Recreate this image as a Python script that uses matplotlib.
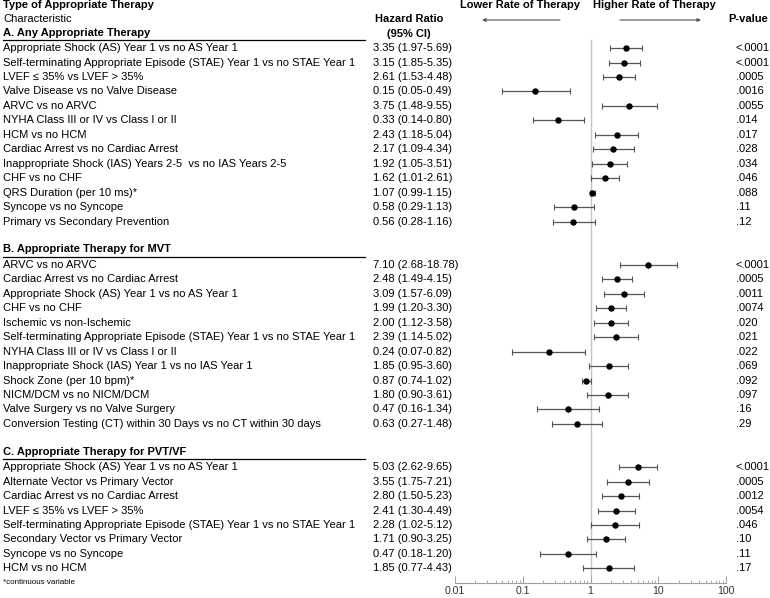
import matplotlib
matplotlib.use("Agg")
import matplotlib.pyplot as plt
from matplotlib.ticker import LogLocator, NullFormatter, FixedLocator, FixedFormatter

plt.rcParams['font.family'] = ['Liberation Sans', 'DejaVu Sans']

# ---------------- data ----------------
title = "Type of Appropriate Therapy"
col_char = "Characteristic"
col_hr = ["Hazard Ratio", "(95% CI)"]
col_p = "P-value"
lower_txt = "Lower Rate of Therapy"
higher_txt = "Higher Rate of Therapy"
footnote = "*continuous variable"

sec_a_title = "A. Any Appropriate Therapy"
sec_a_labels = [
    "Appropriate Shock (AS) Year 1 vs no AS Year 1",
    "Self-terminating Appropriate Episode (STAE) Year 1 vs no STAE Year 1",
    "LVEF \u2264 35% vs LVEF > 35%",
    "Valve Disease vs no Valve Disease",
    "ARVC vs no ARVC",
    "NYHA Class III or IV vs Class I or II",
    "HCM vs no HCM",
    "Cardiac Arrest vs no Cardiac Arrest",
    "Inappropriate Shock (IAS) Years 2-5  vs no IAS Years 2-5",
    "CHF vs no CHF",
    "QRS Duration (per 10 ms)*",
    "Syncope vs no Syncope",
    "Primary vs Secondary Prevention",
]
sec_a_hr = [3.35, 3.15, 2.61, 0.15, 3.75, 0.33, 2.43, 2.17, 1.92, 1.62, 1.07, 0.58, 0.56]
sec_a_lo = [1.97, 1.85, 1.53, 0.05, 1.48, 0.14, 1.18, 1.09, 1.05, 1.01, 0.99, 0.29, 0.28]
sec_a_hi = [5.69, 5.35, 4.48, 0.49, 9.55, 0.80, 5.04, 4.34, 3.51, 2.61, 1.15, 1.13, 1.16]
sec_a_p = ["<.0001", "<.0001", ".0005", ".0016", ".0055", ".014", ".017", ".028",
           ".034", ".046", ".088", ".11", ".12"]

sec_b_title = "B. Appropriate Therapy for MVT"
sec_b_labels = [
    "ARVC vs no ARVC",
    "Cardiac Arrest vs no Cardiac Arrest",
    "Appropriate Shock (AS) Year 1 vs no AS Year 1",
    "CHF vs no CHF",
    "Ischemic vs non-Ischemic",
    "Self-terminating Appropriate Episode (STAE) Year 1 vs no STAE Year 1",
    "NYHA Class III or IV vs Class I or II",
    "Inappropriate Shock (IAS) Year 1 vs no IAS Year 1",
    "Shock Zone (per 10 bpm)*",
    "NICM/DCM vs no NICM/DCM",
    "Valve Surgery vs no Valve Surgery",
    "Conversion Testing (CT) within 30 Days vs no CT within 30 days",
]
sec_b_hr = [7.10, 2.48, 3.09, 1.99, 2.00, 2.39, 0.24, 1.85, 0.87, 1.80, 0.47, 0.63]
sec_b_lo = [2.68, 1.49, 1.57, 1.20, 1.12, 1.14, 0.07, 0.95, 0.74, 0.90, 0.16, 0.27]
sec_b_hi = [18.78, 4.15, 6.09, 3.30, 3.58, 5.02, 0.82, 3.60, 1.02, 3.61, 1.34, 1.48]
sec_b_p = ["<.0001", ".0005", ".0011", ".0074", ".020", ".021", ".022", ".069",
           ".092", ".097", ".16", ".29"]

sec_c_title = "C. Appropriate Therapy for PVT/VF"
sec_c_labels = [
    "Appropriate Shock (AS) Year 1 vs no AS Year 1",
    "Alternate Vector vs Primary Vector",
    "Cardiac Arrest vs no Cardiac Arrest",
    "LVEF \u2264 35% vs LVEF > 35%",
    "Self-terminating Appropriate Episode (STAE) Year 1 vs no STAE Year 1",
    "Secondary Vector vs Primary Vector",
    "Syncope vs no Syncope",
    "HCM vs no HCM",
]
sec_c_hr = [5.03, 3.55, 2.80, 2.41, 2.28, 1.71, 0.47, 1.85]
sec_c_lo = [2.62, 1.75, 1.50, 1.30, 1.02, 0.90, 0.18, 0.77]
sec_c_hi = [9.65, 7.21, 5.23, 4.49, 5.12, 3.25, 1.20, 4.43]
sec_c_p = ["<.0001", ".0005", ".0012", ".0054", ".046", ".10", ".11", ".17"]

x_ticks = [0.01, 0.1, 1, 10, 100]
x_ticklabels = ["0.01", "0.1", "1", "10", "100"]

sections = [
    (sec_a_title, sec_a_labels, sec_a_hr, sec_a_lo, sec_a_hi, sec_a_p),
    (sec_b_title, sec_b_labels, sec_b_hr, sec_b_lo, sec_b_hi, sec_b_p),
    (sec_c_title, sec_c_labels, sec_c_hr, sec_c_lo, sec_c_hi, sec_c_p),
]

# ---------------- layout (pixels) ----------------
W, H = 770, 598
FS = 8.0
y0, dy = 4.8, 14.45

def rowy(k):
    return y0 + k * dy

fig = plt.figure(figsize=(W / 100, H / 100), dpi=100)
bg = fig.add_axes([0, 0, 1, 1])
bg.set_xlim(0, W)
bg.set_ylim(H, 0)
bg.axis('off')

ax_left, ax_right, ax_bottom = 455, 726, 583
ax = fig.add_axes([ax_left / W, (H - ax_bottom) / H, (ax_right - ax_left) / W, ax_bottom / H])
ax.set_xscale('log')
ax.set_xlim(0.01, 100)
ax.set_ylim(ax_bottom, 0)
ax.patch.set_alpha(0)
for s in ['top', 'left', 'right']:
    ax.spines[s].set_visible(False)
ax.spines['bottom'].set_color('#a0a0a0')
ax.spines['bottom'].set_linewidth(0.8)
ax.set_yticks([])
ax.xaxis.set_major_locator(FixedLocator(x_ticks))
ax.xaxis.set_major_formatter(FixedFormatter(x_ticklabels))
ax.xaxis.set_minor_locator(LogLocator(base=10, subs=range(2, 10)))
ax.xaxis.set_minor_formatter(NullFormatter())
ax.tick_params(axis='x', which='major', direction='in', length=5, width=0.7,
               color='#a0a0a0', labelsize=7.6, labelcolor='#333333', pad=2.5)
ax.tick_params(axis='x', which='minor', direction='in', length=2.5, width=0.6,
               color='#a0a0a0')

# reference line at HR = 1
ax.plot([1, 1], [40, ax_bottom], color='#c4c4c4', lw=1.0, zorder=1)

# headers
bg.text(3, rowy(0), title, fontsize=FS, fontweight='bold', va='center', ha='left')
bg.text(3, rowy(1), col_char, fontsize=FS, va='center', ha='left')
bg.text(409, rowy(1), col_hr[0], fontsize=FS, fontweight='bold', va='center', ha='center')
bg.text(409, rowy(2), col_hr[1], fontsize=FS, fontweight='bold', va='center', ha='center')
bg.text(728, rowy(1), col_p, fontsize=FS, fontweight='bold', va='center', ha='left')
bg.text(520, rowy(0), lower_txt, fontsize=FS, fontweight='bold', va='center', ha='center')
bg.text(654, rowy(0), higher_txt, fontsize=FS, fontweight='bold', va='center', ha='center')
bg.annotate('', xy=(482, 20), xytext=(560, 20),
            arrowprops=dict(arrowstyle='-|>', color='#555555', lw=0.8,
                            mutation_scale=5, shrinkA=0, shrinkB=0))
bg.annotate('', xy=(701, 20), xytext=(620, 20),
            arrowprops=dict(arrowstyle='-|>', color='#555555', lw=0.8,
                            mutation_scale=5, shrinkA=0, shrinkB=0))

k = 2
for (stitle, labels, hr, lo, hi, pv) in sections:
    ys = rowy(k)
    bg.text(3, ys - 1, stitle, fontsize=FS, fontweight='bold', va='center', ha='left')
    bg.plot([3, 365], [ys + 6.6, ys + 6.6], color='black', lw=0.9)
    k += 1
    rows_y = []
    for i in range(len(labels)):
        y = rowy(k)
        rows_y.append(y)
        bg.text(3, y, labels[i], fontsize=FS, va='center', ha='left')
        bg.text(373, y, f"{hr[i]:.2f} ({lo[i]:.2f}-{hi[i]:.2f})", fontsize=FS,
                va='center', ha='left')
        bg.text(736, y, pv[i], fontsize=FS, va='center', ha='left')
        k += 1
    xerr = [[h - l for h, l in zip(hr, lo)], [u - h for h, u in zip(hr, hi)]]
    ax.errorbar(hr, rows_y, xerr=xerr, fmt='o', color='black', ms=3.6,
                ecolor='#555555', elinewidth=0.9, capsize=2.2, capthick=0.8,
                zorder=3)
    k += 1

bg.text(3, rowy(40) - 0.5, footnote, fontsize=5.8, va='center', ha='left')

fig.savefig("out.png", dpi=100)
